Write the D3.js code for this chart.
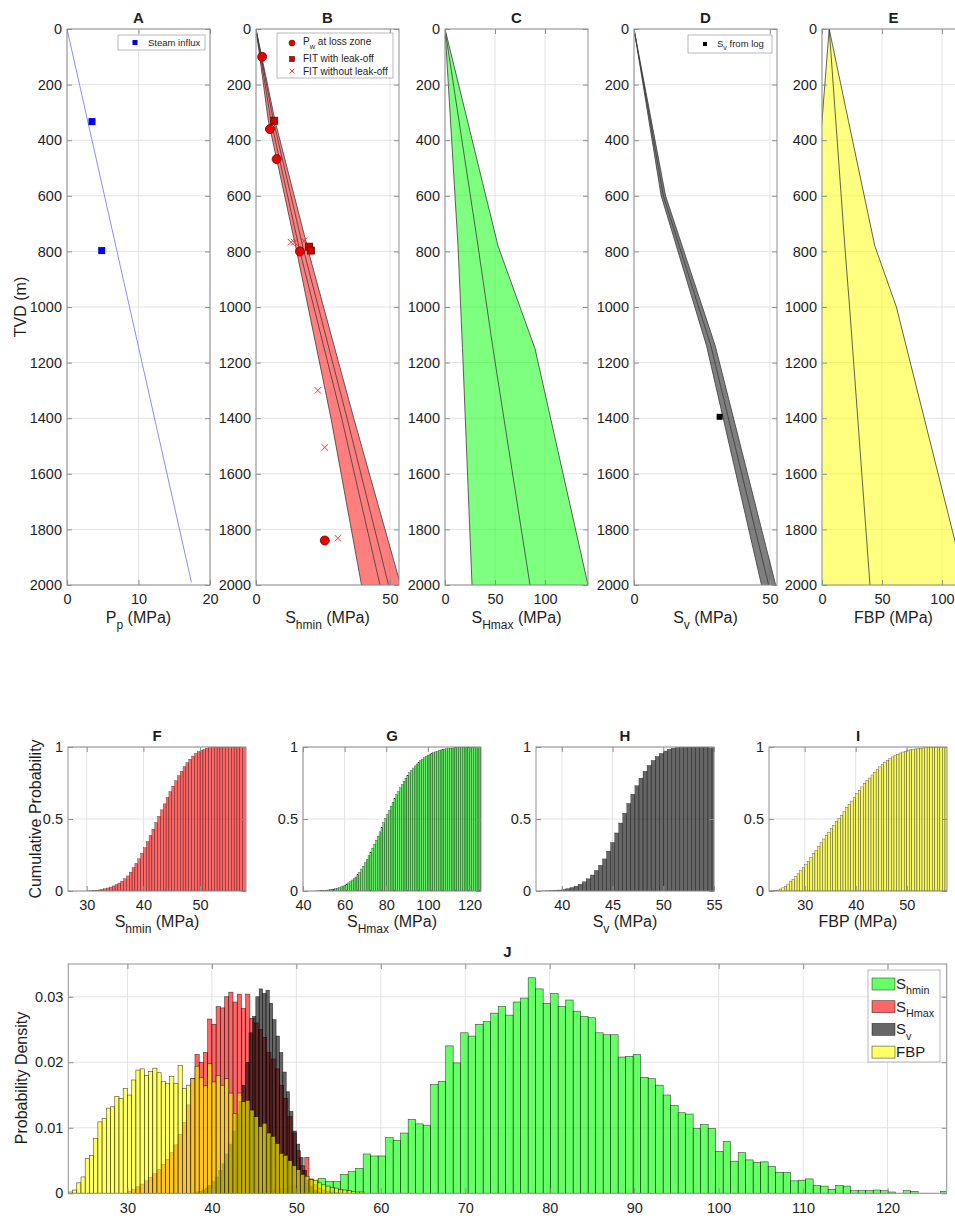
<!DOCTYPE html>
<html>
<head>
<meta charset="utf-8">
<script src="https://cdn.jsdelivr.net/npm/d3@7"></script>
<style>
  body { margin: 0; background: #fff; overflow: hidden; }
  svg text { font-family: "Liberation Sans", Arial, Helvetica, sans-serif; }
</style>
</head>
<body>
<script>
// ---------- profile data (depth in m, values in MPa) ----------
const depthTicks = [0, 200, 400, 600, 800, 1000, 1200, 1400, 1600, 1800, 2000];

const ppDepth = [0, 1990];
const ppValue = [0, 17.4];
const steamDepth = [333, 797];
const steamPp = [3.5, 4.85];

const shminDepth = [0, 330, 800, 1400, 2000];
const shminLow = [0, 4.6, 15.2, 28.0, 39.4];
const shminMidA = [0, 5.6, 16.4, 32.0, 46.3];
const shminMidB = [0, 6.5, 17.9, 34.0, 49.5];
const shminHigh = [0, 7.1, 19.6, 36.5, 54.0];
const lossDepth = [100, 360, 468, 800, 1840];
const lossPw = [2.3, 5.2, 7.7, 16.4, 25.7];
const fitLeakDepth = [330, 783, 797];
const fitLeak = [6.8, 19.8, 20.5];
const fitNoLeakDepth = [767, 767, 762, 1300, 1505, 1832];
const fitNoLeak = [13.1, 14.3, 17.9, 23.1, 25.7, 30.6];

const shmaxDepth = [0, 780, 1150, 2000];
const shmaxLow = [0, 13, 17.5, 27];
const shmaxMid = [0, 33, 48, 85];
const shmaxHigh = [0, 53, 90, 143];

const svDepth = [0, 600, 1140, 2000];
const svLow = [0, 10.0, 26.7, 46.9];
const svMid = [0, 10.8, 28.3, 49.5];
const svHigh = [0, 11.6, 29.9, 52.1];
const svLogDepth = [1395];
const svLog = [31.5];

const fbpDepth = [0, 330, 780, 1000, 2000];
const fbpLow = [6, 0, -8.2, -12.2, -30.4];
const fbpMid = [6, 11.5, 19, 23, 40];
const fbpHigh = [6, 22, 44, 62, 120];

// ---------- histogram data (probability per bin) ----------
// red series: Shmin (panel F), drawn red in J
const shminStart = 30, shminWidth = 0.5;
const shminDensity = [
  0.0003, 0.0006, 0.0010, 0.0014, 0.0019, 0.0024, 0.0030, 0.0036, 0.0044, 0.0052,
  0.0062, 0.0074, 0.0090, 0.0108, 0.0135, 0.0175, 0.0212, 0.0200, 0.0215, 0.0266,
  0.0258, 0.0285, 0.0283, 0.0300, 0.0307, 0.0292, 0.0304, 0.0282, 0.0304, 0.0267,
  0.0260, 0.0250, 0.0238, 0.0215, 0.0205, 0.0190, 0.0165, 0.0145, 0.0117, 0.0092,
  0.0065, 0.0042, 0.0055, 0.0022, 0.0013, 0.0008, 0.0005, 0.0003, 0.0002, 0.0001,
  0, 0, 0, 0, 0, 0
];
// green series: SHmax (panel G), drawn green in J
const shmaxStart = 45.48, shmaxWidth = 0.888;
const shmaxDensity = [
  0.0002, 0.0003, 0.0005, 0.0007, 0.0010, 0.0012, 0.0015, 0.0020, 0.0023, 0.0018,
  0.0018, 0.0029, 0.0033, 0.0038, 0.0060, 0.0057, 0.0057, 0.0085, 0.0081, 0.0092,
  0.0113, 0.0106, 0.0104, 0.0166, 0.0171, 0.0225, 0.0199, 0.0245, 0.0240, 0.0258,
  0.0262, 0.0275, 0.0285, 0.0272, 0.0292, 0.0298, 0.0329, 0.0312, 0.0290, 0.0305,
  0.0285, 0.0295, 0.0278, 0.0270, 0.0268, 0.0245, 0.0242, 0.0242, 0.0208, 0.0209,
  0.0212, 0.0177, 0.0175, 0.0165, 0.0150, 0.0134, 0.0123, 0.0121, 0.0099, 0.0105,
  0.0099, 0.0064, 0.0079, 0.0049, 0.0062, 0.0051, 0.0047, 0.0048, 0.0041, 0.0032,
  0.0032, 0.0019, 0.0020, 0.0022, 0.0012, 0.0011, 0.0006, 0.0012, 0.0011, 0.0004,
  0.0004, 0.0004, 0.0005, 0.0004, 0.0002, 0, 0.0004, 0.0003, 0, 0,
  0, 0.0003
];
// grey series: Sv (panel H)
const svStart = 38, svWidth = 0.4;
const svDensity = [
  0.0002, 0.0003, 0.0005, 0.0008, 0.0012, 0.0018, 0.0025, 0.0035, 0.0045, 0.0060,
  0.0075, 0.0095, 0.0120, 0.0140, 0.0165, 0.0200, 0.0245, 0.0270, 0.0300, 0.0312,
  0.0305, 0.0310, 0.0290, 0.0265, 0.0240, 0.0215, 0.0185, 0.0155, 0.0125, 0.0095,
  0.0075, 0.0055, 0.0035, 0.0020, 0.0010, 0.0005, 0.0002, 0, 0, 0,
  0, 0, 0
];
// yellow series: FBP (panel I)
const fbpStart = 23, fbpWidth = 0.5;
const fbpDensity = [
  0.0002, 0.0005, 0.0016, 0.0025, 0.0053, 0.0058, 0.0084, 0.0109, 0.0114, 0.0130,
  0.0132, 0.0148, 0.0145, 0.0160, 0.0150, 0.0173, 0.0188, 0.0190, 0.0180, 0.0186,
  0.0191, 0.0184, 0.0171, 0.0168, 0.0178, 0.0168, 0.0195, 0.0160, 0.0165, 0.0175,
  0.0194, 0.0177, 0.0164, 0.0198, 0.0170, 0.0180, 0.0165, 0.0175, 0.0153, 0.0122,
  0.0153, 0.0140, 0.0142, 0.0127, 0.0117, 0.0102, 0.0107, 0.0092, 0.0087, 0.0076,
  0.0061, 0.0058, 0.0050, 0.0042, 0.0036, 0.0029, 0.0026, 0.0021, 0.0020, 0.0016,
  0.0013, 0.0011, 0.0009, 0.0008, 0.0006, 0.0005, 0.0004, 0.0003, 0.0002, 0.0002
];

// ---------- helpers ----------
const svg = d3.select("body").append("svg").attr("width", 955).attr("height", 1218);
const AXIS = "#8f8f8f", GRID = "#e4e4e4", INK = "#1e1e1e";
let clipCount = 0;

// "S_{hmin} (MPa)" -> text with subscript tspans
function richText(g, str, x, y, size, o = {}) {
  const parts = [];
  const re = /_\{([^}]*)\}/g;
  let last = 0, m;
  while ((m = re.exec(str))) {
    if (m.index > last) parts.push({ t: str.slice(last, m.index) });
    parts.push({ t: m[1], sub: true });
    last = re.lastIndex;
  }
  if (last < str.length) parts.push({ t: str.slice(last) });

  const t = g.append("text").attr("x", x).attr("y", y)
    .attr("text-anchor", o.anchor || "middle")
    .attr("font-size", size).attr("fill", INK)
    .attr("font-weight", o.bold ? "bold" : null);
  if (o.rotate) t.attr("transform", `rotate(-90,${x},${y})`);
  let shift = 0;
  parts.forEach(p => {
    const target = p.sub ? size * 0.35 : 0;
    t.append("tspan").attr("dy", target - shift)
      .attr("font-size", p.sub ? size * (o.subScale || 0.75) : size).text(p.t);
    shift = target;
  });
  return t;
}

function drawGrid(g, x, y, xTicks, yTicks) {
  const [x0, x1] = x.range(), [y0, y1] = d3.extent(y.range());
  g.append("g").selectAll("line").data(xTicks).join("line")
    .attr("x1", d => x(d)).attr("x2", d => x(d)).attr("y1", y0).attr("y2", y1)
    .attr("stroke", GRID);
  g.append("g").selectAll("line").data(yTicks).join("line")
    .attr("x1", x0).attr("x2", x1).attr("y1", d => y(d)).attr("y2", d => y(d))
    .attr("stroke", GRID);
}

function clipped(g, x, y) {
  const id = "clip" + (clipCount++);
  const [x0, x1] = x.range(), [y0, y1] = d3.extent(y.range());
  g.append("clipPath").attr("id", id).append("rect")
    .attr("x", x0).attr("y", y0).attr("width", x1 - x0).attr("height", y1 - y0);
  return g.append("g").attr("clip-path", `url(#${id})`);
}

function drawAxes(g, x, y, xTicks, yTicks, xFmt, yFmt) {
  const [x0, x1] = x.range(), [y0, y1] = d3.extent(y.range());
  const style = a => {
    a.attr("font-family", null).attr("font-size", null);
    a.select(".domain").remove();
    a.selectAll("line").attr("stroke", AXIS);
    a.selectAll("text").attr("font-size", 14.5).attr("fill", INK);
  };
  g.append("g").attr("transform", `translate(0,${y1})`)
    .call(d3.axisBottom(x).tickValues(xTicks).tickSize(-5).tickPadding(9).tickFormat(xFmt)).call(style);
  g.append("g").attr("transform", `translate(0,${y0})`)
    .call(d3.axisTop(x).tickValues(xTicks).tickSize(-5).tickFormat("")).call(style);
  g.append("g").attr("transform", `translate(${x0},0)`)
    .call(d3.axisLeft(y).tickValues(yTicks).tickSize(-5).tickPadding(5).tickFormat(yFmt)).call(style);
  g.append("g").attr("transform", `translate(${x1},0)`)
    .call(d3.axisRight(y).tickValues(yTicks).tickSize(-5).tickFormat("")).call(style);
  g.append("rect").attr("x", x0).attr("y", y0).attr("width", x1 - x0).attr("height", y1 - y0)
    .attr("fill", "none").attr("stroke", AXIS);
}

// ---------- top row: depth profiles ----------
const yDepth = d3.scaleLinear().domain([0, 2000]).range([29, 585]);

function band(g, x, depths, low, high, mids, color) {
  const rows = depths.map((d, i) => ({ d, lo: low[i], hi: high[i] }));
  g.append("path").datum(rows)
    .attr("d", d3.area().y(r => yDepth(r.d)).x0(r => x(r.lo)).x1(r => x(r.hi)))
    .attr("fill", color).attr("fill-opacity", 0.5);
  const line = d3.line().x(p => x(p[0])).y(p => yDepth(p[1]));
  [low, high, ...mids].forEach(vals => {
    g.append("path").datum(depths.map((d, i) => [vals[i], d]))
      .attr("d", line).attr("fill", "none").attr("stroke", "#3a3a3a").attr("stroke-width", 0.8);
  });
}

const profilePanels = [
  { title: "A", left: 67, domain: [0, 20], ticks: [0, 10, 20], label: "P_{p} (MPa)" },
  { title: "B", left: 256, domain: [0, 53.4], ticks: [0, 50], label: "S_{hmin} (MPa)" },
  { title: "C", left: 445, domain: [0, 143], ticks: [0, 50, 100], label: "S_{Hmax} (MPa)" },
  { title: "D", left: 634, domain: [0, 52.6], ticks: [0, 50], label: "S_{v} (MPa)" },
  { title: "E", left: 822, domain: [0, 119.2], ticks: [0, 50, 100], label: "FBP (MPa)" }
];

profilePanels.forEach(p => {
  const g = svg.append("g");
  const x = d3.scaleLinear().domain(p.domain).range([p.left, p.left + 143]);
  p.g = g;
  drawGrid(g, x, yDepth, p.ticks, depthTicks);
  const c = clipped(g, x, yDepth);

  if (p.title === "A") {
    c.append("path").datum(ppDepth.map((d, i) => [ppValue[i], d]))
      .attr("d", d3.line().x(q => x(q[0])).y(q => yDepth(q[1])))
      .attr("fill", "none").attr("stroke", "#8c8cff").attr("stroke-width", 1);
    c.selectAll(".steam").data(steamDepth).join("rect")
      .attr("x", (d, i) => x(steamPp[i]) - 3.5).attr("y", d => yDepth(d) - 3.5)
      .attr("width", 7).attr("height", 7).attr("fill", "#0000ff");
  }
  if (p.title === "B") {
    band(c, x, shminDepth, shminLow, shminHigh, [shminMidA, shminMidB], "#ff0000");
    c.append("g").selectAll("path").data(fitNoLeakDepth).join("path")
      .attr("d", d3.symbol(d3.symbolX, 30))
      .attr("transform", (d, i) => `translate(${x(fitNoLeak[i])},${yDepth(d)})`)
      .attr("stroke", "#ff3030").attr("stroke-width", 1).attr("fill", "none");
    c.append("g").selectAll("rect").data(fitLeakDepth).join("rect")
      .attr("x", (d, i) => x(fitLeak[i]) - 3.5).attr("y", d => yDepth(d) - 3.5)
      .attr("width", 7).attr("height", 7)
      .attr("fill", "#d00000").attr("stroke", "#5a0000").attr("stroke-width", 0.8);
    c.append("g").selectAll("circle").data(lossDepth).join("circle")
      .attr("cx", (d, i) => x(lossPw[i])).attr("cy", d => yDepth(d)).attr("r", 4.5)
      .attr("fill", "#ee0000").attr("stroke", "#6a0000").attr("stroke-width", 0.8);
  }
  if (p.title === "C") band(c, x, shmaxDepth, shmaxLow, shmaxHigh, [shmaxMid], "#00ff00");
  if (p.title === "D") {
    band(c, x, svDepth, svLow, svHigh, [svMid], "#000000");
    c.selectAll(".svlog").data(svLogDepth).join("rect")
      .attr("x", (d, i) => x(svLog[i]) - 3).attr("y", d => yDepth(d) - 3)
      .attr("width", 6).attr("height", 6).attr("fill", "#000");
  }
  if (p.title === "E") band(c, x, fbpDepth, fbpLow, fbpHigh, [fbpMid], "#ffff00");

  drawAxes(g, x, yDepth, p.ticks, depthTicks, d3.format("d"), d3.format("d"));
  richText(g, p.title, p.left + 71.5, 23, 15, { bold: true });
  richText(g, p.label, p.left + 71.5, 623, 16);
});

richText(svg, "TVD (m)", 26, 307, 16, { rotate: true });

// legends of the profile panels
function legendBox(g, x, y, w, h) {
  g.append("rect").attr("x", x).attr("y", y).attr("width", w).attr("height", h)
    .attr("fill", "#fff").attr("stroke", "#a8a8a8").attr("stroke-width", 0.8);
}
{
  const g = profilePanels[0].g;
  legendBox(g, 118, 35, 87, 15);
  g.append("rect").attr("x", 132.5).attr("y", 40).attr("width", 5).attr("height", 5).attr("fill", "#0000ff");
  richText(g, "Steam influx", 148, 46, 9.5, { anchor: "start" });
}
{
  const g = profilePanels[1].g;
  legendBox(g, 277, 33, 116, 45);
  g.append("circle").attr("cx", 292).attr("cy", 43).attr("r", 3)
    .attr("fill", "#ee0000").attr("stroke", "#6a0000").attr("stroke-width", 0.6);
  g.append("rect").attr("x", 289.5).attr("y", 56.5).attr("width", 5).attr("height", 5)
    .attr("fill", "#d00000").attr("stroke", "#5a0000").attr("stroke-width", 0.6);
  g.append("path").attr("d", d3.symbol(d3.symbolX, 16))
    .attr("transform", "translate(292,71)").attr("stroke", "#ff3030").attr("fill", "none");
  richText(g, "P_{w} at loss zone", 303, 45, 10, { anchor: "start" });
  richText(g, "FIT with leak-off", 303, 62, 10, { anchor: "start" });
  richText(g, "FIT without leak-off", 303, 74.5, 10, { anchor: "start" });
}
{
  const g = profilePanels[3].g;
  legendBox(g, 688, 35, 84, 18);
  g.append("rect").attr("x", 703).attr("y", 42).attr("width", 4).attr("height", 4).attr("fill", "#000");
  richText(g, "S_{v} from log", 717, 47, 9.5, { anchor: "start" });
}

// ---------- middle row: cumulative probability ----------
function binRows(start, width, values) {
  return values.map((v, i) => ({ x0: start + i * width, x1: start + (i + 1) * width, v }));
}

const yCdf = d3.scaleLinear().domain([0, 1]).range([891, 747]);
const cdfPanels = [
  { title: "F", left: 68, domain: [26.7, 58.1], ticks: [30, 40, 50], label: "S_{hmin} (MPa)",
    start: shminStart, width: shminWidth, values: shminDensity, color: "#ff0000" },
  { title: "G", left: 303, domain: [40, 125.5], ticks: [40, 60, 80, 100, 120], label: "S_{Hmax} (MPa)",
    start: shmaxStart, width: shmaxWidth, values: shmaxDensity, color: "#00e000" },
  { title: "H", left: 536, domain: [37.45, 55], ticks: [40, 45, 50, 55], label: "S_{v} (MPa)",
    start: svStart, width: svWidth, values: svDensity, color: "#000000" },
  { title: "I", left: 769, domain: [23, 57.9], ticks: [30, 40, 50], label: "FBP (MPa)",
    start: fbpStart, width: fbpWidth, values: fbpDensity, color: "#f0f000" }
];

cdfPanels.forEach(p => {
  const g = svg.append("g");
  const x = d3.scaleLinear().domain(p.domain).range([p.left, p.left + 178]);
  drawGrid(g, x, yCdf, p.ticks, [0, 0.5, 1]);
  const c = clipped(g, x, yCdf);
  const total = d3.sum(p.values);
  const cum = Array.from(d3.cumsum(p.values));
  const rows = binRows(p.start, p.width, p.values).map((b, i) => ({ ...b, v: cum[i] / total }))
    .filter(b => b.v > 0);
  c.selectAll("rect").data(rows).join("rect")
    .attr("x", b => x(b.x0)).attr("width", b => x(b.x1) - x(b.x0))
    .attr("y", b => yCdf(b.v)).attr("height", b => yCdf(0) - yCdf(b.v))
    .attr("fill", p.color).attr("fill-opacity", 0.6)
    .attr("stroke", "#000").attr("stroke-width", 0.35).attr("stroke-opacity", 0.75);
  drawAxes(g, x, yCdf, p.ticks, [0, 0.5, 1], d3.format("d"), d => String(d));
  richText(g, p.title, p.left + 89, 741, 15, { bold: true });
  richText(g, p.label, p.left + 89, 927, 16);
});
richText(svg, "Cumulative Probability", 41, 819, 16, { rotate: true });

// ---------- bottom: probability density ----------
const xJ = d3.scaleLinear().domain([23, 127]).range([68.3, 946.7]);
const yJ = d3.scaleLinear().domain([0, 0.035]).range([1193.3, 964]);
const jTicksX = [30, 40, 50, 60, 70, 80, 90, 100, 110, 120];
const jTicksY = [0, 0.01, 0.02, 0.03];

const jSeries = [
  { name: "S_{hmin}", start: shmaxStart, width: shmaxWidth, values: shmaxDensity, color: "#00ff00" },
  { name: "S_{Hmax}", start: shminStart, width: shminWidth, values: shminDensity, color: "#ff0000" },
  { name: "S_{v}", start: svStart, width: svWidth, values: svDensity, color: "#000000" },
  { name: "FBP", start: fbpStart, width: fbpWidth, values: fbpDensity, color: "#ffff00" }
];

{
  const g = svg.append("g");
  drawGrid(g, xJ, yJ, jTicksX, jTicksY);
  const c = clipped(g, xJ, yJ);
  jSeries.forEach(s => {
    c.append("g").selectAll("rect")
      .data(binRows(s.start, s.width, s.values).filter(b => b.v > 0))
      .join("rect")
      .attr("x", b => xJ(b.x0)).attr("width", b => xJ(b.x1) - xJ(b.x0))
      .attr("y", b => yJ(b.v)).attr("height", b => yJ(0) - yJ(b.v))
      .attr("fill", s.color).attr("fill-opacity", 0.6)
      .attr("stroke", "#000").attr("stroke-width", 0.6).attr("stroke-opacity", 0.7);
  });
  drawAxes(g, xJ, yJ, jTicksX, jTicksY, d3.format("d"), d => String(d));
  richText(g, "J", 507.5, 957, 15, { bold: true });
  richText(svg, "Probability Density", 27, 1078, 16, { rotate: true });

  // legend
  legendBox(g, 868, 970, 72, 92);
  jSeries.forEach((s, i) => {
    const yy = 978 + i * 22.7;
    g.append("rect").attr("x", 872).attr("y", yy).attr("width", 23).attr("height", 12)
      .attr("fill", s.color).attr("fill-opacity", 0.6)
      .attr("stroke", "#000").attr("stroke-width", 0.6).attr("stroke-opacity", 0.7);
    richText(g, s.name, 896, yy + 11, 15, { anchor: "start", subScale: 0.72 });
  });
}
</script>
</body>
</html>
